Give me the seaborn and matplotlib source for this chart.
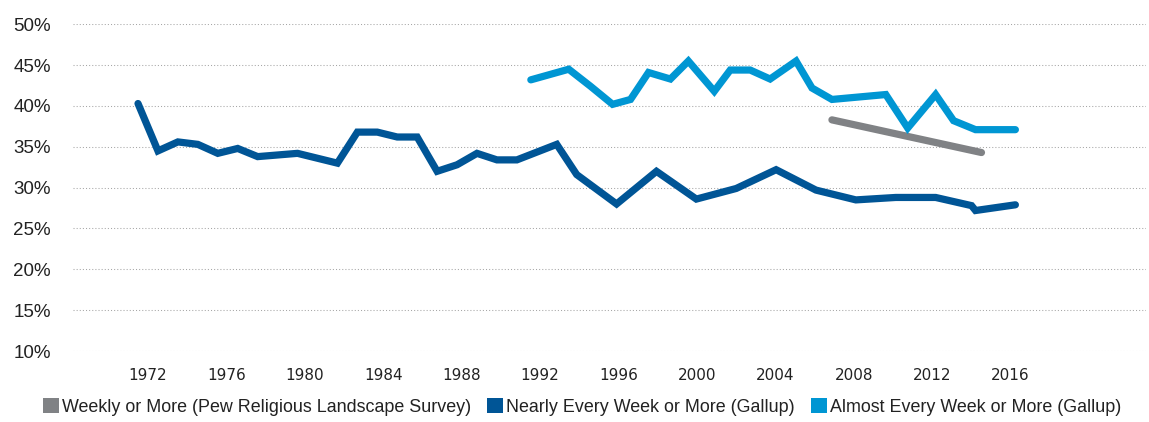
import pandas as pd
import matplotlib
matplotlib.use("Agg")
import matplotlib.pyplot as plt
import seaborn as sns
from matplotlib.patches import Patch

# -----------------------
# Data
# -----------------------
pew_years = [2006.8, 2014.3]
pew_values = [38.3, 34.3]

nearly_years = [1972, 1973, 1974, 1975, 1976, 1977, 1978, 1980, 1982, 1983,
                1984, 1985, 1986, 1987, 1988, 1989, 1990, 1991, 1993, 1994,
                1996, 1998, 2000, 2002, 2004, 2006, 2008, 2010, 2012, 2013.8,
                2014, 2016]
nearly_values = [40.3, 34.5, 35.6, 35.3, 34.2, 34.8, 33.8, 34.2, 33.0, 36.8,
                 36.8, 36.2, 36.2, 32.0, 32.8, 34.2, 33.4, 33.4, 35.3, 31.6,
                 28.0, 32.0, 28.6, 29.9, 32.2, 29.7, 28.5, 28.8, 28.8, 27.8,
                 27.2, 27.9]

almost_years = [1991.7, 1993.6, 1994.7, 1995.8, 1996.7, 1997.6, 1998.7, 1999.6,
                2000.9, 2001.7, 2002.7, 2003.7, 2005.0, 2005.8, 2006.8, 2009.5,
                2010.6, 2012.0, 2012.9, 2014.0, 2016.0]
almost_values = [43.2, 44.5, 42.4, 40.2, 40.8, 44.1, 43.3, 45.5,
                 41.8, 44.4, 44.4, 43.3, 45.5, 42.2, 40.8, 41.4,
                 37.3, 41.4, 38.2, 37.1, 37.1]

series_names = ["Weekly or More (Pew Religious Landscape Survey)",
                "Nearly Every Week or More (Gallup)",
                "Almost Every Week or More (Gallup)"]
series_colors = ["#808285", "#005596", "#0096D3"]

tick_years = list(range(1972, 2017, 4))
y_ticks = [10, 15, 20, 25, 30, 35, 40, 45, 50]

df = pd.concat([
    pd.DataFrame({"year": pew_years, "pct": pew_values, "series": series_names[0]}),
    pd.DataFrame({"year": nearly_years, "pct": nearly_values, "series": series_names[1]}),
    pd.DataFrame({"year": almost_years, "pct": almost_values, "series": series_names[2]}),
])

# -----------------------
# Plot
# -----------------------
sns.set_style("white")
plt.rcParams["font.family"] = ["Liberation Sans", "DejaVu Sans"]

fig = plt.figure(figsize=(11.49, 4.22), dpi=100)
ax = fig.add_axes([73 / 1149, 71 / 422, 1073 / 1149, 326.7 / 422])

for name, color in zip(series_names, series_colors):
    sns.lineplot(data=df[df["series"] == name], x="year", y="pct", ax=ax,
                 color=color, linewidth=5.2, legend=False,
                 solid_capstyle="round", solid_joinstyle="miter", zorder=3)

ax.set_xlim(1968.74, 2022.55)
ax.set_ylim(10, 50)
ax.set_yticks(y_ticks)
ax.set_yticklabels([f"{v}%" for v in y_ticks], fontsize=13.5, color="#222222")
ax.set_xticks([1972.5 + (y - 1972) * 0.983 for y in tick_years])
ax.set_xticklabels([str(y) for y in tick_years], color="#222222",
                   fontsize=11, family=["DejaVu Sans"])
ax.tick_params(axis="y", length=0, pad=16)
ax.tick_params(axis="x", length=0, pad=12)

ax.grid(axis="y", color="#A6A6A6", linewidth=0.75, linestyle=(0, (1, 2)))
ax.grid(axis="x", visible=False)
for s in ax.spines.values():
    s.set_visible(False)
ax.set_xlabel("")
ax.set_ylabel("")

handles = [Patch(facecolor=c, edgecolor="none") for c in series_colors]
leg = fig.legend(handles, series_names, loc="center", bbox_to_anchor=(582 / 1149, 15 / 422),
                 ncol=3, frameon=False, handlelength=0.9, handleheight=0.9,
                 handletextpad=0.15, columnspacing=0.9, borderpad=0,
                 prop={"family": ["Liberation Sans", "DejaVu Sans"], "size": 12.9})
for t in leg.get_texts():
    t.set_color("#222222")

plt.savefig("out.png", dpi=100)
